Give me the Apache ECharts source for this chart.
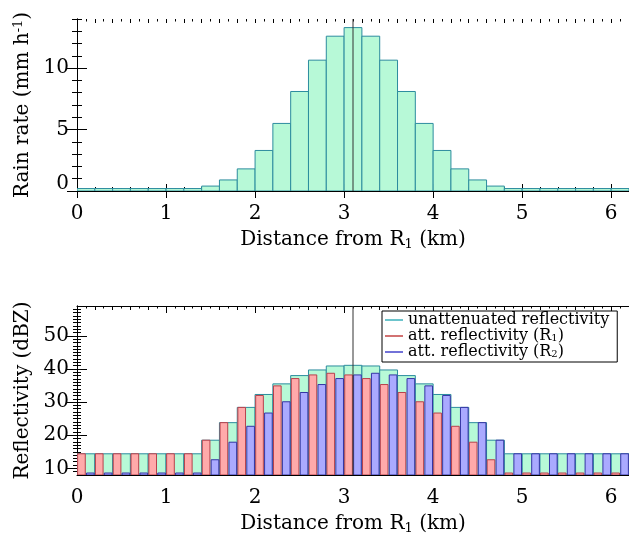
<!DOCTYPE html>
<html>
<head>
<meta charset="utf-8">
<script src="https://cdn.jsdelivr.net/npm/echarts@6/dist/echarts.min.js"></script>
<style>
  html, body { margin: 0; padding: 0; background: #fff; }
  #chart { width: 629px; height: 536px; }
</style>
</head>
<body>
<div id="chart"></div>
<script>
// 0.2 km bins, centre of each bin (km from R1)
const binCenters = [0.1, 0.3, 0.5, 0.7, 0.9, 1.1, 1.3, 1.5, 1.7, 1.9, 2.1, 2.3, 2.5, 2.7, 2.9,
  3.1, 3.3, 3.5, 3.7, 3.9, 4.1, 4.3, 4.5, 4.7, 4.9, 5.1, 5.3, 5.5, 5.7, 5.9, 6.1];

// rain rate (mm/h)
const rainRate = [0.2, 0.2, 0.2, 0.2, 0.2, 0.2, 0.2, 0.4, 0.9, 1.8, 3.3, 5.5, 8.1, 10.65, 12.6,
  13.3, 12.6, 10.65, 8.1, 5.5, 3.3, 1.8, 0.9, 0.4, 0.2, 0.2, 0.2, 0.2, 0.2, 0.2, 0.2];

// reflectivity (dBZ)
const zUnatt = [14.4, 14.4, 14.4, 14.4, 14.4, 14.4, 14.4, 18.5, 23.8, 28.4, 32.3, 35.5, 38.0, 39.7, 40.9,
  41.1, 40.9, 39.7, 38.0, 35.5, 32.3, 28.4, 23.8, 18.5, 14.4, 14.4, 14.4, 14.4, 14.4, 14.4, 14.4];
const zAttR1 = [14.4, 14.4, 14.4, 14.4, 14.4, 14.4, 14.4, 18.5, 23.8, 28.4, 32.0, 34.9, 37.1, 38.2, 38.7,
  38.2, 37.1, 35.3, 32.9, 30.1, 26.7, 22.7, 17.9, 12.6, 8.6, 8.6, 8.6, 8.6, 8.6, 8.6, 8.6];
const zAttR2 = [8.6, 8.6, 8.6, 8.6, 8.6, 8.6, 8.6, 12.6, 17.9, 22.7, 26.7, 30.1, 32.9, 35.3, 37.1,
  38.2, 38.7, 38.2, 37.1, 34.9, 32.0, 28.4, 23.8, 18.5, 14.4, 14.4, 14.4, 14.4, 14.4, 14.4, 14.4];

const markerKm = 3.1;

const distTicks = [0, 1, 2, 3, 4, 5, 6];
const rainTicks = [0, 5, 10];
const dbzTicks = [10, 20, 30, 40, 50];
const seriesNames = ['unattenuated reflectivity', 'att. reflectivity (R1)', 'att. reflectivity (R2)'];

const FONT = 'DejaVu Serif';
const xMax = 6.2;
const rainRange = [0, 14];
const dbzRange = [8, 59];

function steps(a, b, s) {
  const out = [];
  for (let v = a; v <= b + 1e-9; v += s) out.push(Math.round(v * 1000) / 1000);
  return out;
}
const distMinorEven = steps(0.2, 6.2, 0.2);
const distMinorOdd = steps(0.1, 6.1, 0.2);
const rainMinor = steps(1, 14, 1);
const dbzMinor = steps(9, 58, 1);

const black = { color: '#000', width: 1 };

function axisSet(kind, g, min, max, major, minorLists, label, name) {
  const sides = kind === 'x' ? ['bottom', 'top'] : ['left', 'right'];
  const base = { type: 'value', gridIndex: g, min: min, max: max, splitLine: { show: false } };
  const list = [];
  sides.forEach(function (side, si) {
    list.push(Object.assign({}, base, {
      position: side,
      axisLine: { show: true, lineStyle: black },
      axisTick: { show: true, inside: true, length: kind === 'x' ? 7 : 10, customValues: major, lineStyle: black },
      axisLabel: si === 0 ? label : { show: false },
      name: si === 0 ? name.text : '',
      nameLocation: 'middle',
      nameGap: name.gap,
      nameTextStyle: name.style
    }));
    minorLists.forEach(function (m) {
      list.push(Object.assign({}, base, {
        position: side,
        axisLine: { show: false },
        axisTick: { show: true, inside: true, length: m.len, customValues: m.values, lineStyle: black },
        axisLabel: { show: false }
      }));
    });
  });
  return list;
}

const labelStyle = { color: '#000', fontFamily: FONT, fontSize: 20 };
const titleStyle = {
  color: '#000', fontFamily: FONT, fontSize: 20,
  rich: {
    sub: { fontFamily: FONT, fontSize: 13, color: '#000', verticalAlign: 'bottom', padding: [9, 0, 0, 0] },
    sup: { fontFamily: FONT, fontSize: 13, color: '#000', verticalAlign: 'top', padding: [0, 0, 8, 0] }
  }
};

const xName = { text: 'Distance from R{sub|1} (km)', gap: 38, style: titleStyle };
const xLabel = Object.assign({ customValues: distTicks, margin: 13 }, labelStyle);
const xMinor = [{ values: distMinorEven, len: 4 }, { values: distMinorOdd, len: 2.5 }];

const xAxes = [].concat(
  axisSet('x', 0, 0, xMax, distTicks, xMinor, xLabel, xName),
  axisSet('x', 1, 0, xMax, distTicks, xMinor, xLabel, xName)
);
// 6 x axes per grid; main bottom axis is index 0 of each group
const X0 = 0, X1 = 6;

const yAxes = [].concat(
  axisSet('y', 0, rainRange[0], rainRange[1], rainTicks, [{ values: rainMinor, len: 5 }],
    Object.assign({
      customValues: rainTicks, margin: 8,
      formatter: function (v) { return v === 0 ? '{lift|0}' : String(v); },
      rich: { lift: { fontFamily: FONT, fontSize: 20, color: '#000', padding: [0, 0, 14, 0] } }
    }, labelStyle),
    { text: 'Rain rate (mm h{sup|-1})', gap: 44, style: titleStyle }),
  axisSet('y', 1, dbzRange[0], dbzRange[1], dbzTicks, [{ values: dbzMinor, len: 4 }],
    Object.assign({ customValues: dbzTicks, margin: 8 }, labelStyle),
    { text: 'Reflectivity (dBZ)', gap: 44, style: titleStyle })
);
const Y0 = 0, Y1 = 4;

function histogram(offset, half, yBase) {
  return function (params, api) {
    const x = api.value(0);
    const top = api.coord([x + offset - half, api.value(1)]);
    const bot = api.coord([x + offset + half, yBase]);
    return {
      type: 'rect',
      shape: { x: top[0], y: top[1], width: bot[0] - top[0], height: bot[1] - top[1] },
      style: api.style()
    };
  };
}

function pairs(values) {
  return binCenters.map(function (c, i) { return [c, values[i]]; });
}

const mint = { color: '#b7f9d7', borderColor: '#2c8c9e', borderWidth: 1 };
const red = { color: '#ffaaaa', borderColor: '#b8404c', borderWidth: 1 };
const blue = { color: '#aaaaff', borderColor: '#3434a4', borderWidth: 1 };

const option = {
  backgroundColor: '#fff',
  animation: false,
  grid: [
    { left: 77, right: -1, top: 19, height: 172 },
    { left: 77, right: -1, top: 306, height: 171 }
  ],
  xAxis: xAxes,
  yAxis: yAxes,
  legend: {
    show: true,
    orient: 'vertical',
    left: 382,
    top: 311,
    padding: [1, 8, 2, 3],
    itemGap: 0,
    itemWidth: 18,
    itemHeight: 2,
    icon: 'rect',
    borderColor: '#000',
    borderWidth: 1,
    backgroundColor: '#fff',
    formatter: function (name) { return name.replace(/\(R(\d)\)/, '(R{sub|$1})'); },
    textStyle: {
      color: '#000', fontFamily: FONT, fontSize: 16, lineHeight: 15,
      rich: { sub: { fontFamily: FONT, fontSize: 10, lineHeight: 10, color: '#000', verticalAlign: 'bottom', padding: [5, 0, 0, 0] } }
    },
    data: [
      { name: seriesNames[0], itemStyle: { color: '#6cc4cc', borderWidth: 0 } },
      { name: seriesNames[1], itemStyle: { color: '#d27272', borderWidth: 0 } },
      { name: seriesNames[2], itemStyle: { color: '#7272d8', borderWidth: 0 } }
    ]
  },
  series: [
    {
      name: 'rain', type: 'custom', xAxisIndex: X0, yAxisIndex: Y0, clip: true,
      renderItem: histogram(0, 0.1, rainRange[0]), itemStyle: mint, data: pairs(rainRate), z: 2
    },
    {
      type: 'line', xAxisIndex: X0, yAxisIndex: Y0, symbol: 'none', silent: true, z: 5,
      lineStyle: { color: '#333', width: 1 },
      data: [[markerKm, rainRange[0]], [markerKm, rainRange[1]]]
    },
    {
      name: seriesNames[0], type: 'custom', xAxisIndex: X1, yAxisIndex: Y1, clip: true,
      renderItem: histogram(0, 0.1, dbzRange[0]), itemStyle: mint, data: pairs(zUnatt), z: 2
    },
    {
      name: seriesNames[1], type: 'custom', xAxisIndex: X1, yAxisIndex: Y1, clip: true,
      renderItem: histogram(-0.05, 0.043, dbzRange[0]), itemStyle: red, data: pairs(zAttR1), z: 3
    },
    {
      name: seriesNames[2], type: 'custom', xAxisIndex: X1, yAxisIndex: Y1, clip: true,
      renderItem: histogram(0.05, 0.043, dbzRange[0]), itemStyle: blue, data: pairs(zAttR2), z: 3
    },
    {
      type: 'line', xAxisIndex: X1, yAxisIndex: Y1, symbol: 'none', silent: true, z: 5,
      lineStyle: { color: '#333', width: 1 },
      data: [[markerKm, dbzRange[0]], [markerKm, dbzRange[1]]]
    }
  ]
};

const chart = echarts.init(document.getElementById('chart'));
chart.setOption(option);
</script>
</body>
</html>
